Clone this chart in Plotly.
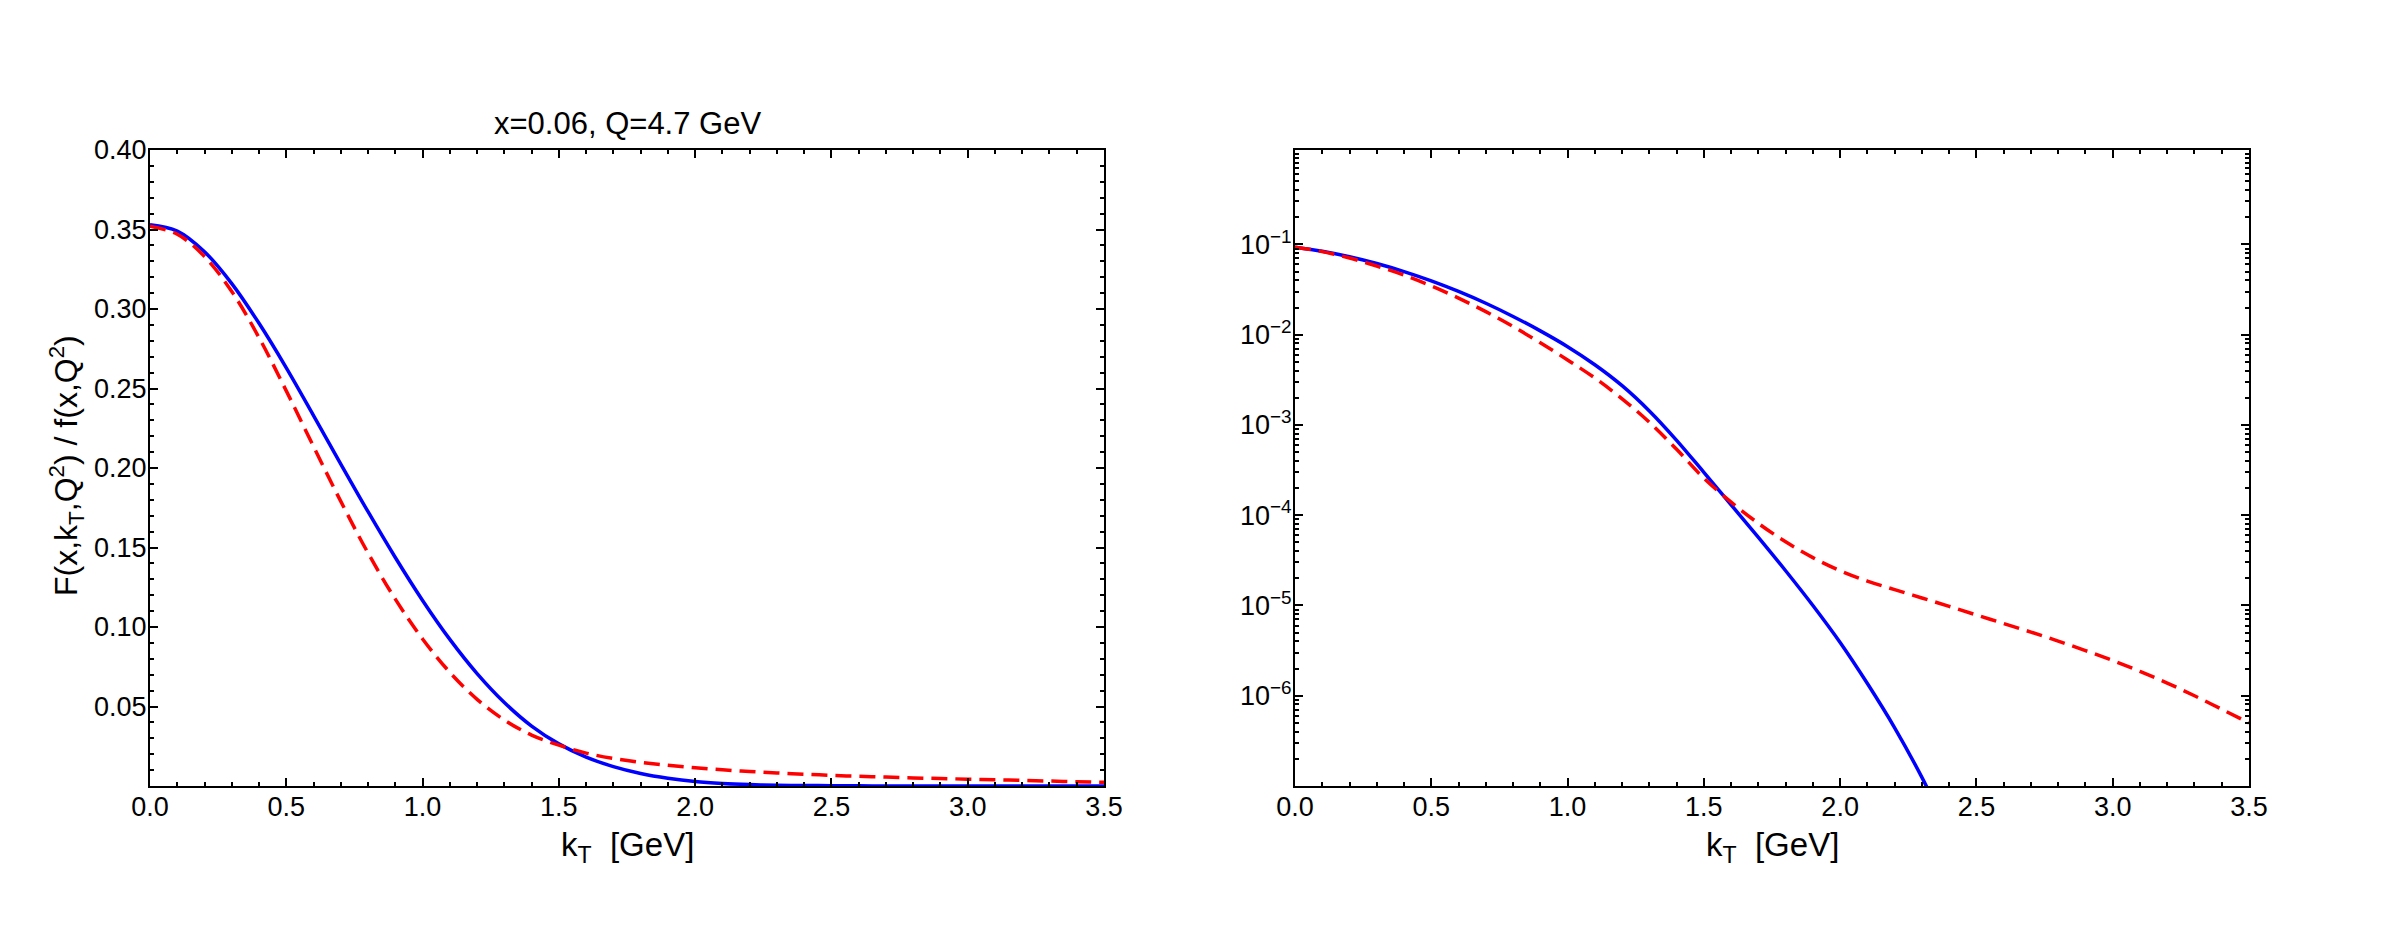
import plotly.graph_objects as go

# ---------------- data ----------------
# Left panel: linear scale, F(x,kT,Q^2)/f(x,Q^2) on a 0.1 GeV grid
kt_left = [0.0, 0.1, 0.2, 0.3, 0.4, 0.5, 0.6, 0.7, 0.8, 0.9, 1.0, 1.1, 1.2, 1.3, 1.4, 1.5,
           1.6, 1.7, 1.8, 1.9, 2.0, 2.1, 2.2, 2.3, 2.4, 2.5, 2.6, 2.7, 2.8, 2.9, 3.0,
           3.1, 3.2, 3.3, 3.4, 3.5]
val_left_blue = [0.353, 0.349, 0.336, 0.316, 0.291, 0.263, 0.233, 0.2025, 0.1725, 0.1437,
                 0.1167, 0.0922, 0.0707, 0.0525, 0.0377, 0.0265, 0.0182, 0.0122, 0.0079,
                 0.0049, 0.0028, 0.0016, 0.0009, 0.0005, 0.0003, 0.0002, 0.0001, 0.00006,
                 0.00004, 0.00002, 0.00001, 0.0, 0.0, 0.0, 0.0, 0.0]
val_left_red = [0.352, 0.347, 0.333, 0.311, 0.282, 0.2485, 0.2135, 0.179, 0.1465, 0.1175,
                0.0925, 0.0715, 0.0545, 0.0415, 0.0320, 0.0257, 0.0207, 0.0173, 0.0149,
                0.0130, 0.0115, 0.0102, 0.0091, 0.0082, 0.0074, 0.0067, 0.0061, 0.0056,
                0.0051, 0.0047, 0.0043, 0.0039, 0.0035, 0.0031, 0.0027, 0.0023]

# Right panel: log scale, values given as log10 of the quantity
kt_right_blue = [0.0, 0.1, 0.2, 0.3, 0.4, 0.5, 0.6, 0.7, 0.8, 0.9, 1.0, 1.1, 1.2, 1.3, 1.4,
                 1.5, 1.6, 1.7, 1.8, 1.9, 2.0, 2.1, 2.2, 2.3, 2.4]
log10_right_blue = [-1.030, -1.076, -1.137, -1.212, -1.301, -1.404, -1.521, -1.652, -1.798,
                    -1.958, -2.133, -2.333, -2.565, -2.845, -3.170, -3.525, -3.885, -4.245,
                    -4.615, -5.000, -5.410, -5.865, -6.355, -6.905, -7.525]
kt_right_red = kt_left
log10_right_red = [-1.030, -1.080, -1.150, -1.240, -1.340, -1.460, -1.595, -1.745, -1.910,
                   -2.090, -2.280, -2.480, -2.710, -2.970, -3.270, -3.590, -3.855, -4.090,
                   -4.295, -4.470, -4.615, -4.730, -4.825, -4.917, -5.010, -5.105, -5.200,
                   -5.295, -5.395, -5.500, -5.610, -5.730, -5.860, -6.000, -6.150, -6.300]

x_tick_vals = [0.0, 0.5, 1.0, 1.5, 2.0, 2.5, 3.0, 3.5]
x_tick_text = ["0.0", "0.5", "1.0", "1.5", "2.0", "2.5", "3.0", "3.5"]
y_left_tick_vals = [0.05, 0.10, 0.15, 0.20, 0.25, 0.30, 0.35, 0.40]
y_left_tick_text = ["0.05", "0.10", "0.15", "0.20", "0.25", "0.30", "0.35", "0.40"]
y_right_tick_vals = [1e-6, 1e-5, 1e-4, 1e-3, 1e-2, 1e-1]
y_right_tick_text = ["10<sup>\u22126</sup>", "10<sup>\u22125</sup>", "10<sup>\u22124</sup>",
                     "10<sup>\u22123</sup>", "10<sup>\u22122</sup>", "10<sup>\u22121</sup>"]

title_text = "x=0.06, Q=4.7 GeV"
x_title = "k<sub>T</sub>  [GeV]"
y_title = "F(x,k<sub>T</sub>,Q<sup>2</sup>) / f(x,Q<sup>2</sup>)"

# ---------------- figure ----------------
W, H = 2400, 936
BLUE = "#0000ff"
RED = "#ff0000"
FONT = "Liberation Sans, Arial, Helvetica, sans-serif"
DASH = "16px,8px"

fig = go.Figure()
fig.add_trace(go.Scatter(x=kt_left, y=val_left_blue, xaxis="x", yaxis="y", mode="lines",
                         line=dict(color=BLUE, width=3.5, shape="spline", smoothing=1.0)))
fig.add_trace(go.Scatter(x=kt_left, y=val_left_red, xaxis="x", yaxis="y", mode="lines",
                         line=dict(color=RED, width=3.5, dash=DASH, shape="spline", smoothing=1.0)))
fig.add_trace(go.Scatter(x=kt_right_blue, y=[10 ** v for v in log10_right_blue],
                         xaxis="x2", yaxis="y2", mode="lines",
                         line=dict(color=BLUE, width=3.5, shape="spline", smoothing=1.0)))
fig.add_trace(go.Scatter(x=kt_right_red, y=[10 ** v for v in log10_right_red],
                         xaxis="x2", yaxis="y2", mode="lines",
                         line=dict(color=RED, width=3.5, dash=DASH, shape="spline", smoothing=1.0)))

minor_log = [m * 10.0 ** e for e in range(-7, 1) for m in range(2, 10)] + [1.0]

common_axis = dict(showline=True, linecolor="black", linewidth=2, mirror="allticks",
                   ticks="inside", ticklen=8, tickwidth=2, tickcolor="black",
                   showgrid=False, zeroline=False, automargin=False,
                   tickfont=dict(size=27, color="black", family=FONT))
minor_common = dict(ticks="inside", ticklen=4, tickwidth=1.5, tickcolor="black", showgrid=False)

ydom = [1 - 786 / H, 1 - 150 / H]
fig.update_layout(
    width=W, height=H, margin=dict(l=0, r=0, t=0, b=0, pad=0, autoexpand=False),
    paper_bgcolor="white", plot_bgcolor="white", showlegend=False,
    font=dict(family=FONT, color="black", size=24),
    xaxis=dict(domain=[150 / W, 1104 / W], anchor="y", range=[0, 3.5],
               tickvals=x_tick_vals, ticktext=x_tick_text, ticklabelstandoff=-4,
               minor=dict(dtick=0.1, tick0=0, **minor_common), **common_axis),
    yaxis=dict(domain=ydom, anchor="x", range=[0, 0.4],
               tickvals=y_left_tick_vals, ticktext=y_left_tick_text, ticklabelstandoff=-4,
               minor=dict(dtick=0.01, tick0=0, **minor_common), **common_axis),
    xaxis2=dict(domain=[1295 / W, 2249 / W], anchor="y2", range=[0, 3.5],
                tickvals=x_tick_vals, ticktext=x_tick_text, ticklabelstandoff=-4,
                minor=dict(dtick=0.1, tick0=0, **minor_common), **common_axis),
    yaxis2=dict(domain=ydom, anchor="x2", type="log", range=[-7.0, 0.046],
                tickvals=y_right_tick_vals, ticktext=y_right_tick_text, ticklabelstandoff=-4,
                minor=dict(tickmode="array", tickvals=minor_log, **minor_common),
                **common_axis),
)

annotations = [
    dict(text=title_text, x=627 / W, y=1 - 124 / H, xref="paper", yref="paper",
         xanchor="center", yanchor="middle", showarrow=False,
         font=dict(size=31, family=FONT, color="black")),
    dict(text=x_title, x=627 / W, y=1 - 847 / H, xref="paper", yref="paper",
         xanchor="center", yanchor="middle", showarrow=False,
         font=dict(size=33, family=FONT, color="black")),
    dict(text=x_title, x=1772 / W, y=1 - 847 / H, xref="paper", yref="paper",
         xanchor="center", yanchor="middle", showarrow=False,
         font=dict(size=33, family=FONT, color="black")),
    dict(text=y_title, x=66 / W, y=1 - 466 / H, xref="paper", yref="paper",
         xanchor="center", yanchor="middle", showarrow=False, textangle=-90,
         font=dict(size=32, family=FONT, color="black")),
]
fig.update_layout(annotations=annotations)

fig.write_html("out.html")
